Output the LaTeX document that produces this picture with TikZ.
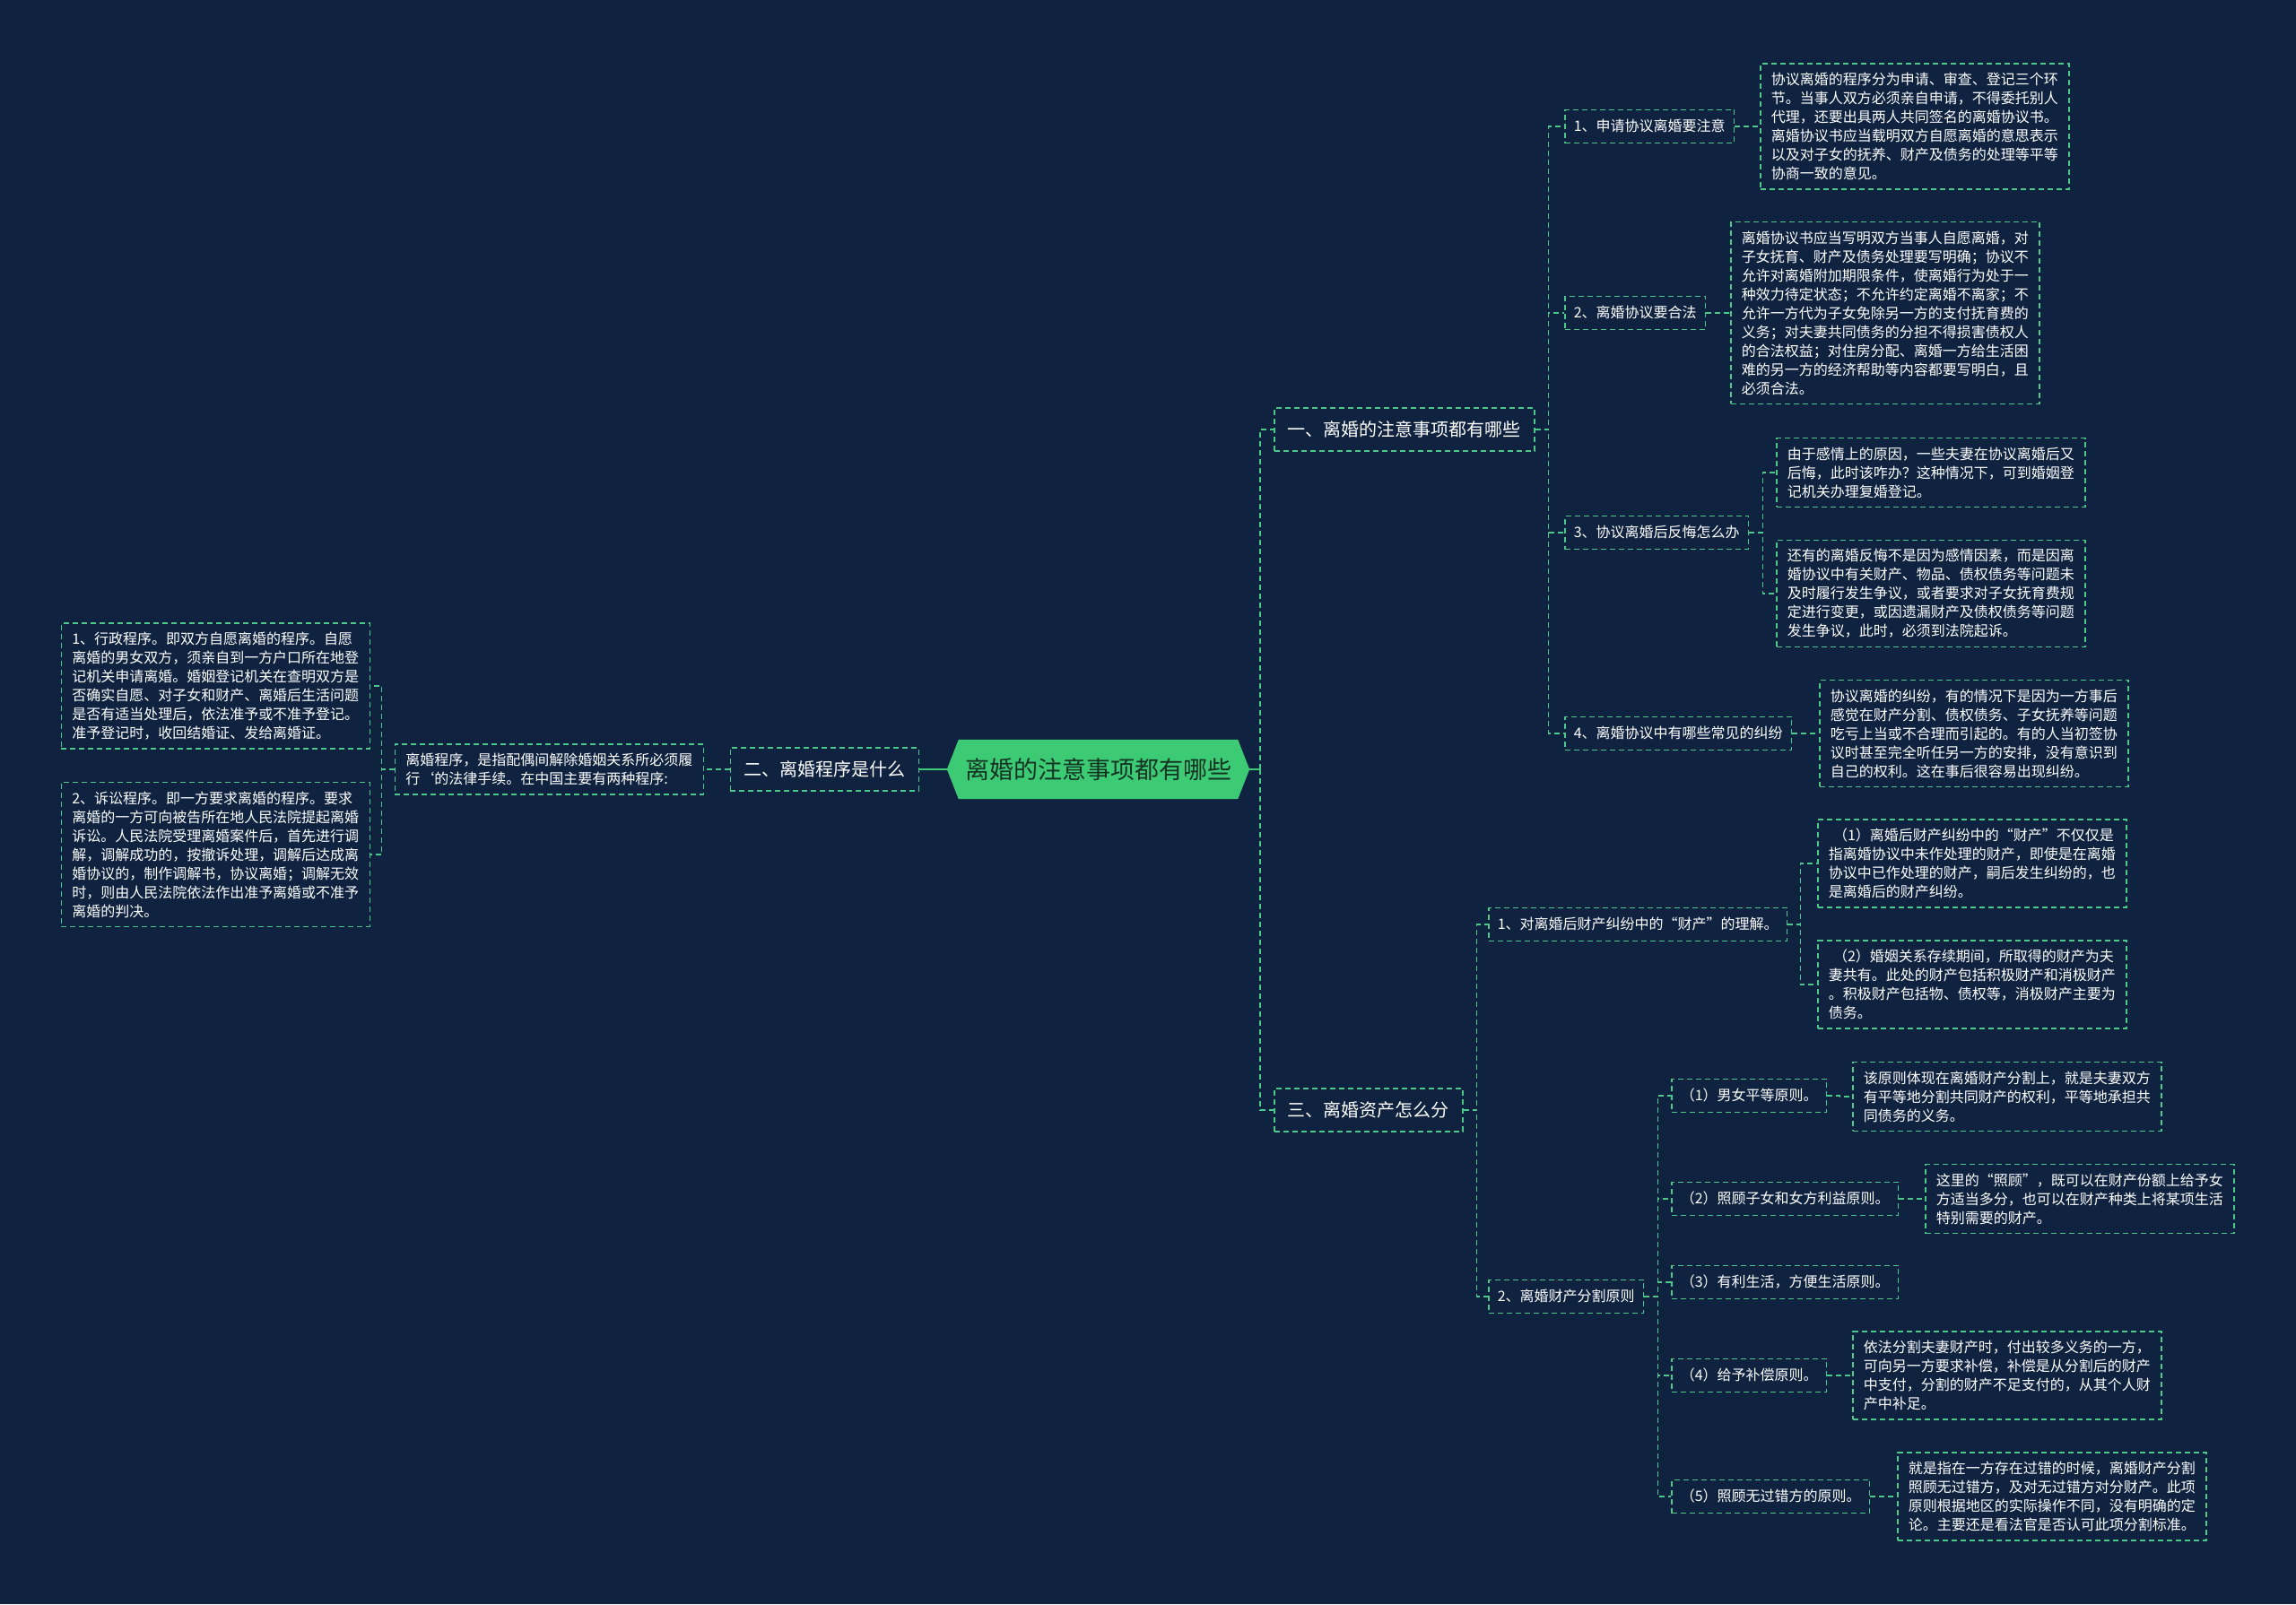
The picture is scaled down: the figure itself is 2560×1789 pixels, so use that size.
\documentclass[tikz,border=0pt]{standalone}
\usepackage{fontspec}
\setmainfont{Noto Sans CJK SC}
\usetikzlibrary{calc}
\definecolor{bgc}{HTML}{0F2341}
\definecolor{lc}{HTML}{4CC88A}
\definecolor{rootc}{HTML}{3CCB74}
\definecolor{roottext}{HTML}{143324}
\pgfdeclarelayer{bg}
\pgfsetlayers{bg,main}
\begin{document}
\begin{tikzpicture}[x=1pt,y=-1pt,
 box/.style={draw=lc, dash pattern=on 6pt off 4pt, line width=1.5pt, text=white},
 leaf/.style={box, font=\fontsize{16}{21}\selectfont, align=left, text width=320pt, inner xsep=12pt, inner ysep=10pt},
 mid/.style={box, font=\fontsize{16}{21}\selectfont, inner xsep=10pt, inner ysep=10pt, text height=14pt, text depth=3pt},
 topbox/.style={box, font=\fontsize{20}{24}\selectfont, inner xsep=15pt, inner ysep=13pt, text height=18pt, text depth=4pt},
 conn/.style={draw=lc, line width=1.5pt, dash pattern=on 6pt off 4pt},
 rootline/.style={draw=rootc, line width=2pt},
]
\useasboundingbox (0,0) rectangle (2560,1789);
\begin{pgfonlayer}{bg}
\fill[bgc] (0,0) rectangle (2560,1789);
\end{pgfonlayer}

% root
\node[font=\fontsize{27}{32}\selectfont, text=roottext, minimum width=337pt, minimum height=66pt, inner sep=0pt] (root) at (1224.5,858) {离婚的注意事项都有哪些};
\begin{pgfonlayer}{bg}
\fill[rootc] (root.west) -- ([xshift=13pt]root.north west) -- ([xshift=-13pt]root.north east) -- (root.east) -- ([xshift=-13pt]root.south east) -- ([xshift=13pt]root.south west) -- cycle;
\end{pgfonlayer}

% level 1
\node[topbox, anchor=west] (n1) at (1420,479) {一、离婚的注意事项都有哪些};
\node[topbox, anchor=west] (n3) at (1420,1238) {三、离婚资产怎么分};
\node[topbox, anchor=east] (n2) at (1025,858) {二、离婚程序是什么};

% left branch
\node[leaf, anchor=east] (ml) at (785,858) {离婚程序，是指配偶间解除婚姻关系所必须履\\行‘的法律手续。在中国主要有两种程序:};
\node[leaf, anchor=east] (la) at (413,765) {1、行政程序。即双方自愿离婚的程序。自愿\\离婚的男女双方，须亲自到一方户口所在地登\\记机关申请离婚。婚姻登记机关在查明双方是\\否确实自愿、对子女和财产、离婚后生活问题\\是否有适当处理后，依法准予或不准予登记。\\准予登记时，收回结婚证、发给离婚证。};
\node[leaf, anchor=east] (lb) at (413,953) {2、诉讼程序。即一方要求离婚的程序。要求\\离婚的一方可向被告所在地人民法院提起离婚\\诉讼。人民法院受理离婚案件后，首先进行调\\解，调解成功的，按撤诉处理，调解后达成离\\婚协议的，制作调解书，协议离婚；调解无效\\时，则由人民法院依法作出准予离婚或不准予\\离婚的判决。};

% branch one
\node[mid, anchor=west] (r1) at (1744,141) {1、申请协议离婚要注意};
\node[leaf, anchor=west] (r1L) at (1962,141) {协议离婚的程序分为申请、审查、登记三个环\\节。当事人双方必须亲自申请，不得委托别人\\代理，还要出具两人共同签名的离婚协议书。\\离婚协议书应当载明双方自愿离婚的意思表示\\以及对子女的抚养、财产及债务的处理等平等\\协商一致的意见。};
\node[mid, anchor=west] (r2) at (1744,349) {2、离婚协议要合法};
\node[leaf, anchor=west] (r2L) at (1929,349) {离婚协议书应当写明双方当事人自愿离婚，对\\子女抚育、财产及债务处理要写明确；协议不\\允许对离婚附加期限条件，使离婚行为处于一\\种效力待定状态；不允许约定离婚不离家；不\\允许一方代为子女免除另一方的支付抚育费的\\义务；对夫妻共同债务的分担不得损害债权人\\的合法权益；对住房分配、离婚一方给生活困\\难的另一方的经济帮助等内容都要写明白，且\\必须合法。};
\node[mid, anchor=west] (r3) at (1744,594) {3、协议离婚后反悔怎么办};
\node[leaf, anchor=west] (r3a) at (1980,527) {由于感情上的原因，一些夫妻在协议离婚后又\\后悔，此时该咋办？这种情况下，可到婚姻登\\记机关办理复婚登记。};
\node[leaf, anchor=west] (r3b) at (1980,662) {还有的离婚反悔不是因为感情因素，而是因离\\婚协议中有关财产、物品、债权债务等问题未\\及时履行发生争议，或者要求对子女抚育费规\\定进行变更，或因遗漏财产及债权债务等问题\\发生争议，此时，必须到法院起诉。};
\node[mid, anchor=west] (r4) at (1744,818) {4、离婚协议中有哪些常见的纠纷};
\node[leaf, anchor=west] (r4L) at (2028,818) {协议离婚的纠纷，有的情况下是因为一方事后\\感觉在财产分割、债权债务、子女抚养等问题\\吃亏上当或不合理而引起的。有的人当初签协\\议时甚至完全听任另一方的安排，没有意识到\\自己的权利。这在事后很容易出现纠纷。};

% branch three
\node[mid, anchor=west] (s1) at (1659,1031) {1、对离婚后财产纠纷中的“财产”的理解。};
\node[leaf, anchor=west] (s1a) at (2026,963) {\ （1）离婚后财产纠纷中的“财产”不仅仅是\\指离婚协议中未作处理的财产，即使是在离婚\\协议中已作处理的财产，嗣后发生纠纷的，也\\是离婚后的财产纠纷。};
\node[leaf, anchor=west] (s1b) at (2026,1098) {\ （2）婚姻关系存续期间，所取得的财产为夫\\妻共有。此处的财产包括积极财产和消极财产\\。积极财产包括物、债权等，消极财产主要为\\债务。};
\node[mid, anchor=west] (s2) at (1659,1446) {2、离婚财产分割原则};
\node[mid, anchor=west] (p1) at (1863,1222) {（1）男女平等原则。};
\node[leaf, anchor=west] (p1L) at (2065,1223) {该原则体现在离婚财产分割上，就是夫妻双方\\有平等地分割共同财产的权利，平等地承担共\\同债务的义务。};
\node[mid, anchor=west] (p2) at (1863,1337) {（2）照顾子女和女方利益原则。};
\node[leaf, anchor=west] (p2L) at (2146,1337) {这里的“照顾”，既可以在财产份额上给予女\\方适当多分，也可以在财产种类上将某项生活\\特别需要的财产。};
\node[mid, anchor=west] (p3) at (1863,1430) {（3）有利生活，方便生活原则。};
\node[mid, anchor=west] (p4) at (1863,1534) {（4）给予补偿原则。};
\node[leaf, anchor=west] (p4L) at (2065,1534) {依法分割夫妻财产时，付出较多义务的一方，\\可向另一方要求补偿，补偿是从分割后的财产\\中支付，分割的财产不足支付的，从其个人财\\产中补足。};
\node[mid, anchor=west] (p5) at (1863,1669) {（5）照顾无过错方的原则。};
\node[leaf, anchor=west] (p5L) at (2115,1669) {就是指在一方存在过错的时候，离婚财产分割\\照顾无过错方，及对无过错方对分财产。此项\\原则根据地区的实际操作不同，没有明确的定\\论。主要还是看法官是否认可此项分割标准。};

% connectors from root
\draw[rootline] (root.west) -- (n2.east);
\draw[rootline] (root.east) -- ++(12,0);
\draw[conn] ([xshift=12pt]root.east) |- (n1.west);
\draw[conn] ([xshift=12pt]root.east) |- (n3.west);

% left
\draw[conn] (n2.west) -- (ml.east);
\draw[conn] (ml.west) -- ++(-14,0) |- (la.east);
\draw[conn] (ml.west) -- ++(-14,0) |- (lb.east);

% branch one
\foreach \c in {r1,r2,r3,r4} \draw[conn] (n1.east) -- ++(15,0) |- (\c.west);
\draw[conn] (r1.east) -- ++(15,0) |- (r1L.west);
\draw[conn] (r2.east) -- ++(15,0) |- (r2L.west);
\draw[conn] (r3.east) -- ++(15,0) |- (r3a.west);
\draw[conn] (r3.east) -- ++(15,0) |- (r3b.west);
\draw[conn] (r4.east) -- ++(15,0) |- (r4L.west);

% branch three
\foreach \c in {s1,s2} \draw[conn] (n3.east) -- ++(15,0) |- (\c.west);
\draw[conn] (s1.east) -- ++(14,0) |- (s1a.west);
\draw[conn] (s1.east) -- ++(14,0) |- (s1b.west);
\foreach \c in {p1,p2,p3,p4,p5} \draw[conn] (s2.east) -- ++(15,0) |- (\c.west);
\draw[conn] (p1.east) -- ++(14,0) |- (p1L.west);
\draw[conn] (p2.east) -- ++(14,0) |- (p2L.west);
\draw[conn] (p4.east) -- ++(14,0) |- (p4L.west);
\draw[conn] (p5.east) -- ++(14,0) |- (p5L.west);
\end{tikzpicture}
\end{document}
